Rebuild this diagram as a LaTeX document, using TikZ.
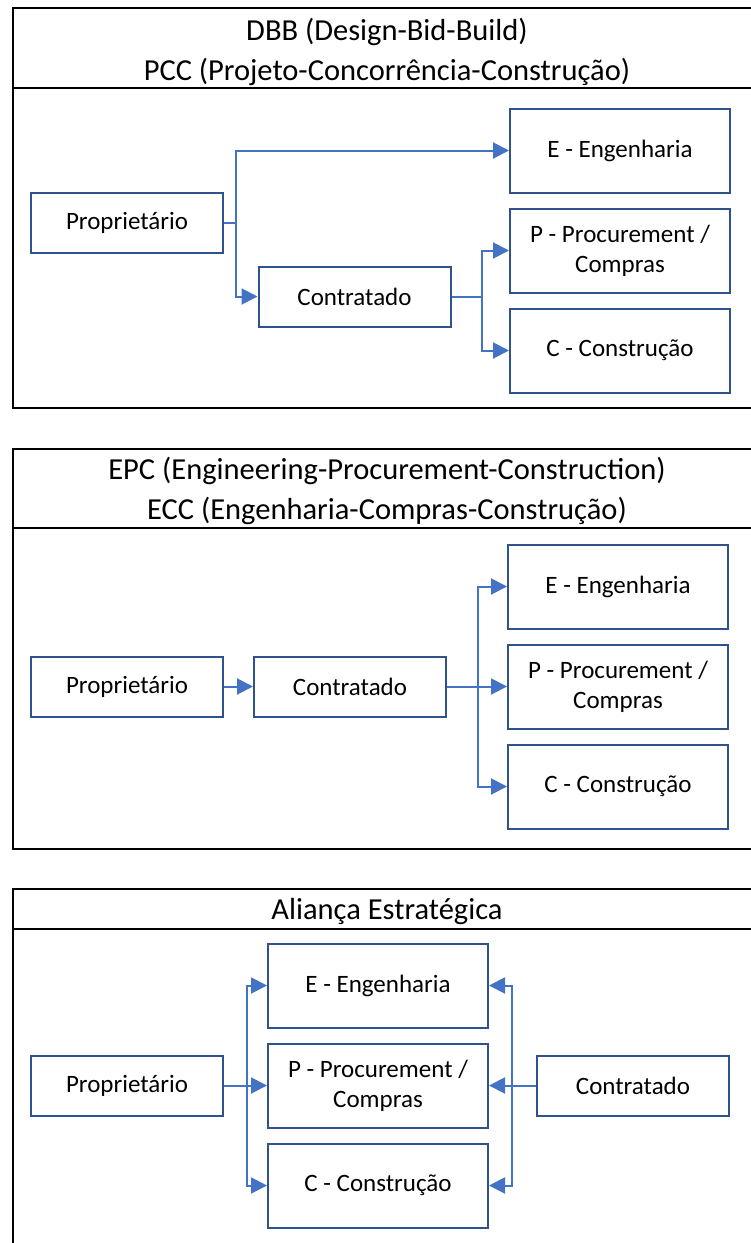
\documentclass[tikz,border=0pt]{standalone}
\usepackage{fontspec}
\setmainfont{Carlito}
\usetikzlibrary{arrows.meta,positioning}
\definecolor{boxblue}{HTML}{2F528F}
\definecolor{arrblue}{HTML}{4472C4}
\tikzset{
  panel/.style={draw=black, line width=2.5pt},
  ttl/.style={align=center, font=\fontsize{30.5}{40}\selectfont, inner sep=0pt},
  blk/.style={draw=boxblue, line width=2pt, align=center, font=\fontsize{25}{30}\selectfont, inner sep=2pt},
  own/.style={blk, minimum width=192pt, minimum height=60pt},
  sub/.style={blk, minimum width=220pt, minimum height=84pt},
  arr/.style={draw=arrblue, line width=2pt, -{Triangle[length=16pt,width=16pt]}},
}
\begin{document}
\begin{tikzpicture}[x=1pt, y=-1pt]
\useasboundingbox (0,0) rectangle (751,1243);
\draw[panel] (13,8) rectangle (760,408) (13,88) -- (760,88);
\node[ttl] (t1) at (387,52) {DBB (Design-Bid-Build)\\PCC (Projeto-Concorrência-Construção)};
\node[own] (prop1) at (127,222.5) {Proprietário};
\node[own] (con1) at (354.5,296.5) {Contratado};
\node[sub] (eng1) at (620,150.5) {E - Engenharia};
\node[sub] (pro1) at (620,250.5) {P - Procurement /\\Compras};
\node[sub] (cns1) at (620,350.5) {C - Construção};
\foreach \b in {eng1,con1} \draw[arr] (prop1.east) -- ++(12,0) |- (\b.west);
\foreach \b in {pro1,cns1} \draw[arr] (con1.east) -- ++(30,0) |- (\b.west);
\draw[panel] (13,449) rectangle (760,849) (13,528) -- (760,528);
\node[ttl] (t2) at (387,491) {EPC (Engineering-Procurement-Construction)\\ECC (Engenharia-Compras-Construção)};
\node[own] (prop2) at (127,686.5) {Proprietário};
\node[own] (con2) at (350,686.5) {Contratado};
\node[sub] (eng2) at (618,586.5) {E - Engenharia};
\node[sub] (pro2) at (618,686.5) {P - Procurement /\\Compras};
\node[sub] (cns2) at (618,786.5) {C - Construção};
\draw[arr] (prop2) -- (con2);
\foreach \b in {eng2,pro2,cns2} \draw[arr] (con2.east) -- ++(31,0) |- (\b.west);
\draw[panel] (13,889) rectangle (760,1300) (13,929) -- (760,929);
\node[ttl] (t3) at (387,912) {Aliança Estratégica};
\node[own] (prop3) at (127,1085.5) {Proprietário};
\node[own] (con3) at (633,1085.5) {Contratado};
\node[sub] (eng3) at (378,985.5) {E - Engenharia};
\node[sub] (pro3) at (378,1085.5) {P - Procurement /\\Compras};
\node[sub] (cns3) at (378,1185.5) {C - Construção};
\foreach \b in {eng3,pro3,cns3} {
  \draw[arr] (prop3.east) -- ++(23,0) |- (\b.west);
  \draw[arr] (con3.west) -- ++(-24,0) |- (\b.east);
}
\end{tikzpicture}
\end{document}
